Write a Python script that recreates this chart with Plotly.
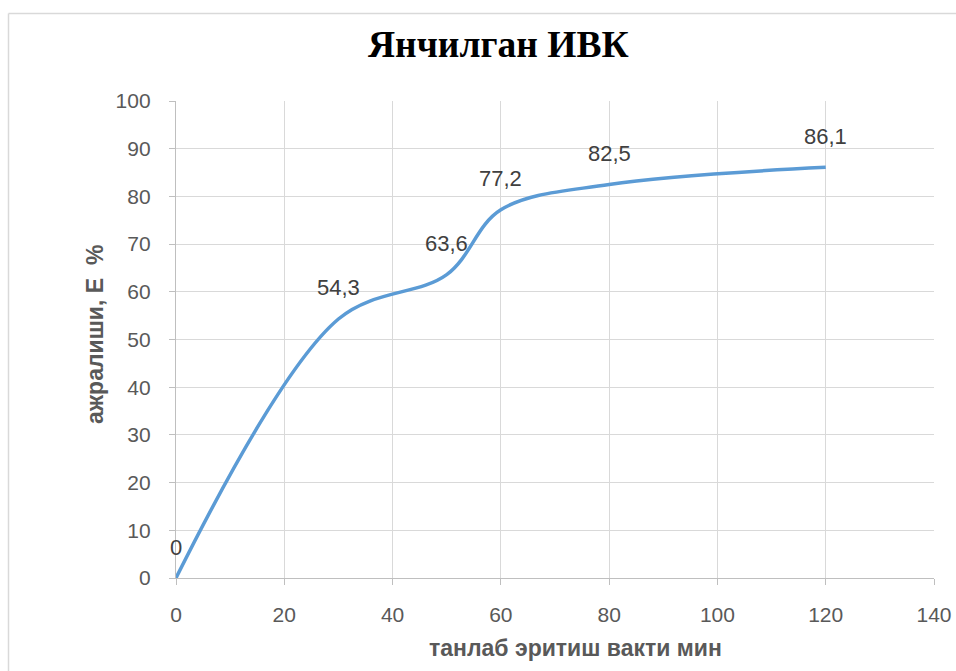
import plotly.graph_objects as go

# Extraction curve: sampling time (min) vs. extraction degree (%)
time_min = [0, 30, 50, 60, 80, 120]
extraction = [0, 54.3, 63.6, 77.2, 82.5, 86.1]
value_labels = ["0", "54,3", "63,6", "77,2", "82,5", "86,1"]

chart_title = "Янчилган ИВК"
x_title = "танлаб эритиш вакти мин"
y_title = "ажралиши, Е\u00a0 %"

x_ticks = [0, 20, 40, 60, 80, 100, 120, 140]
y_ticks = [0, 10, 20, 30, 40, 50, 60, 70, 80, 90, 100]

W, H = 956, 671
L, R, T, B = 176, 22, 101, 93
pw, ph = W - L - R, H - T - B


def px_x(p):
    return (p - L) / pw


def px_y(p):
    return (H - B - p) / ph


grid = "#d9d9d9"
axis_line = "#bfbfbf"
text_grey = "#595959"
sans = "Liberation Sans, Arial, sans-serif"

fig = go.Figure()
fig.add_trace(go.Scatter(
    x=time_min, y=extraction, mode="lines",
    line=dict(color="#5b9bd5", width=3.5, shape="spline", smoothing=1.0),
    hoverinfo="x+y", showlegend=False,
))

# value labels above each point
for xv, yv, lab in zip(time_min, extraction, value_labels):
    fig.add_annotation(x=xv, y=yv, text=lab, showarrow=False,
                       xanchor="center", yanchor="middle", yshift=31,
                       font=dict(family=sans, size=22, color="#404040"))

# chart title
fig.add_annotation(xref="paper", yref="paper", x=px_x(498), y=px_y(44),
                   text=f"<b>{chart_title}</b>", showarrow=False,
                   xanchor="center", yanchor="middle",
                   font=dict(family="Liberation Serif, Times New Roman, serif",
                             size=37.5, color="#000000"))

# axis titles
fig.add_annotation(xref="paper", yref="paper", x=px_x(575), y=px_y(648),
                   text=f"<b>{x_title}</b>", showarrow=False,
                   xanchor="center", yanchor="middle",
                   font=dict(family=sans, size=23, color=text_grey))
fig.add_annotation(xref="paper", yref="paper", x=px_x(95), y=px_y(335),
                   text=f"<b>{y_title}</b>", showarrow=False, textangle=-90,
                   xanchor="center", yanchor="middle",
                   font=dict(family=sans, size=23, color=text_grey))

# outer chart frame: only its top and left edges fall on the page
frame = dict(color="#d9d9d9", width=1.5)
fig.add_shape(type="line", xref="paper", yref="paper",
              x0=px_x(8.5), x1=px_x(1400), y0=px_y(13.5), y1=px_y(13.5),
              line=frame, layer="below")
fig.add_shape(type="line", xref="paper", yref="paper",
              x0=px_x(8.5), x1=px_x(8.5), y0=px_y(13.5), y1=px_y(1000),
              line=frame, layer="below")

fig.update_xaxes(range=[0, 140], tickvals=x_ticks, showgrid=True,
                 gridcolor=grid, gridwidth=1.3, zeroline=False,
                 showline=True, linecolor=axis_line, linewidth=1.3,
                 ticks="outside", ticklen=6, tickcolor=axis_line,
                 ticklabelstandoff=12, automargin=False,
                 tickfont=dict(family=sans, size=21, color=text_grey))
fig.update_yaxes(range=[0, 100], tickvals=y_ticks, showgrid=True,
                 gridcolor=grid, gridwidth=1.3, zeroline=False,
                 showline=True, linecolor=axis_line, linewidth=1.3,
                 ticks="outside", ticklen=6, tickcolor=axis_line,
                 ticklabelstandoff=14, automargin=False,
                 tickfont=dict(family=sans, size=21, color=text_grey))

fig.update_layout(width=W, height=H, margin=dict(l=L, r=R, t=T, b=B),
                  paper_bgcolor="white", plot_bgcolor="white")

# keep the page exactly one figure in size, without scrollbars
fig.write_html(
    "out.html",
    post_script=("document.documentElement.style.overflow='hidden';"
                 "document.body.style.overflow='hidden';"
                 "document.body.style.margin='0';"),
)
